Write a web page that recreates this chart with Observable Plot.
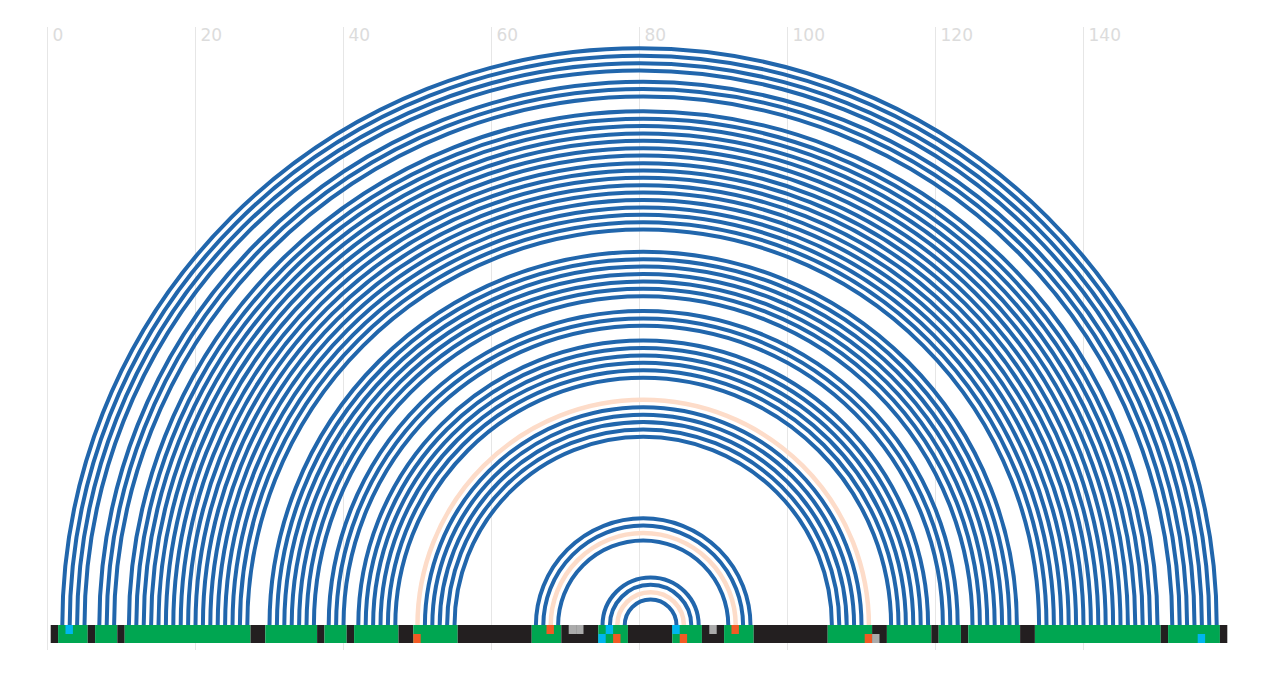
<!DOCTYPE html>
<html>
<head>
<meta charset="utf-8">
<script src="https://cdn.jsdelivr.net/npm/d3@7"></script>
<script src="https://cdn.jsdelivr.net/npm/@observablehq/plot@0.6"></script>
<style>
  html, body { margin: 0; padding: 0; background: #fff; }
  #chart svg { display: block; }
</style>
</head>
<body>
<div id="chart"></div>
<script>
// Secondary structure as runs of dot-bracket symbols (positions 1..159)
const structureRuns = [
  [".", 1], ["(", 4], [".", 1], ["(", 3], [".", 1], ["(", 17], [".", 2], ["(", 7],
  [".", 1], ["(", 3], [".", 1], ["(", 6], [".", 2], ["(", 6], [".", 10], ["(", 4],
  [".", 5], ["(", 4], [".", 6], [")", 4], [".", 3], [")", 4], [".", 10], [")", 6],
  [".", 2], [")", 6], [".", 1], [")", 3], [".", 1], [")", 7], [".", 2], [")", 17],
  [".", 1], [")", 7], [".", 1]
];
// Pairs drawn in the pale colour (given by their 5' position)
const altPairStarts = [50, 68, 77];
// Marked positions in the top and bottom rows of the bar
const cyanTop = [3, 76, 85];
const cyanBottom = [75, 156];
const orangeTop = [68, 93];
const orangeBottom = [50, 77, 86, 111];
const grayTop = [71, 72, 90];
const grayBottom = [112];
// Axis ticks
const tickValues = [0, 20, 40, 60, 80, 100, 120, 140];

// Build the structure string and derive pairs and paired runs
const structure = structureRuns.map(([c, n]) => c.repeat(n)).join("");
const N = structure.length;
const pairs = [];
const stack = [];
for (let k = 0; k < N; ++k) {
  const c = structure[k];
  if (c === "(") stack.push(k + 1);
  else if (c === ")") { const i = stack.pop(); pairs.push({i, j: k + 1, alt: altPairStarts.includes(i)}); }
}
const runs = [];
for (let k = 0; k < N; ++k) {
  const paired = structure[k] !== ".";
  const last = runs[runs.length - 1];
  if (last && last.paired === paired) last.end = k + 1;
  else runs.push({start: k + 1, end: k + 1, paired});
}
const marks = [
  ...cyanTop.map(p => ({p, row: 0, color: "#00b5ef"})),
  ...cyanBottom.map(p => ({p, row: 1, color: "#00b5ef"})),
  ...orangeTop.map(p => ({p, row: 0, color: "#f15a24"})),
  ...orangeBottom.map(p => ({p, row: 1, color: "#f15a24"})),
  ...grayTop.map(p => ({p, row: 0, color: "#ababab"})),
  ...grayBottom.map(p => ({p, row: 1, color: "#ababab"}))
];
const rowH = 9;

const chart = Plot.plot({
  width: 1272,
  height: 676,
  marginLeft: 47,
  marginRight: 41,
  marginTop: 27,
  marginBottom: 26,
  x: {domain: [0, 160], axis: null},
  y: {domain: [-25, 598], axis: null},
  marks: [
    Plot.gridX(tickValues, {stroke: "#e6e6e6", strokeOpacity: 1, strokeWidth: 1}),
    Plot.arrow(pairs.filter(d => d.alt), {
      x1: "i", x2: "j", y1: 0, y2: 0, bend: 90, headLength: 0,
      stroke: "#fddcc9", strokeWidth: 4.5, strokeLinecap: "butt"
    }),
    Plot.arrow(pairs.filter(d => !d.alt), {
      x1: "i", x2: "j", y1: 0, y2: 0, bend: 90, headLength: 0,
      stroke: "#2166ac", strokeWidth: 4, strokeLinecap: "butt"
    }),
    Plot.rect(runs, {
      x1: d => d.start - 0.5, x2: d => d.end + 0.5,
      y1: 0, y2: -2 * rowH,
      fill: d => d.paired ? "#00a651" : "#231f20"
    }),
    Plot.rect(marks, {
      x1: d => d.p - 0.5, x2: d => d.p + 0.5,
      y1: d => -d.row * rowH, y2: d => -(d.row + 1) * rowH,
      fill: "color"
    }),
    Plot.text(tickValues, {
      x: d => d, frameAnchor: "top", text: d => String(d),
      textAnchor: "start", lineAnchor: "top", dx: 5, dy: 1,
      fill: "#dcdcdc", fontSize: 17, fontFamily: "DejaVu Sans, sans-serif"
    })
  ]
});
document.getElementById("chart").appendChild(chart);
</script>
</body>
</html>
